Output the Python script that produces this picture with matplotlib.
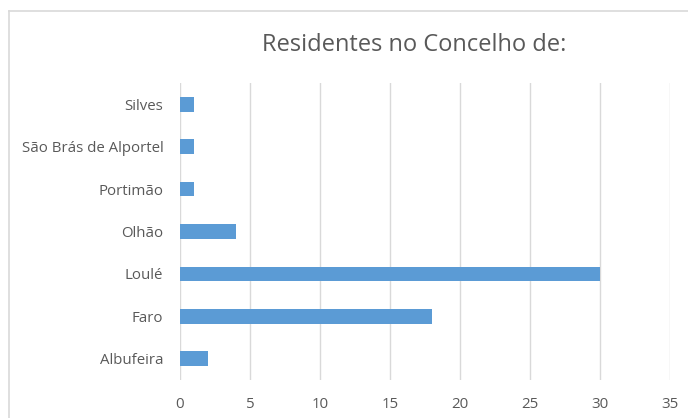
import matplotlib
matplotlib.use("Agg")
import matplotlib.pyplot as plt
from matplotlib.lines import Line2D

categories = ["Albufeira", "Faro", "Loulé", "Olhão", "Portimão", "São Brás de Alportel", "Silves"]
values = [2, 18, 30, 4, 1, 1, 1]
xticks = [0, 5, 10, 15, 20, 25, 30, 35]

W, H = 688, 418
fig = plt.figure(figsize=(W/100, H/100), dpi=100)
plt.rcParams['font.family'] = ['Open Sans', 'DejaVu Sans']

# axes in pixel coords: x 180..670, y 83..380
ax = fig.add_axes([180/W, 1-380/H, (670-180)/W, (380-83)/H])
ax.barh(range(len(categories)), values, height=0.35, color="#5B9BD5", zorder=3)
ax.set_xlim(0, 35)
ax.set_ylim(-0.5, len(categories)-0.5)
ax.set_xticks(xticks)
ax.set_xticklabels([str(t) for t in xticks], fontsize=10.8, color="#595959")
ax.set_yticks(range(len(categories)))
ax.set_yticklabels(categories, fontsize=10.8, color="#595959")
ax.tick_params(axis='both', length=0)
ax.tick_params(axis='x', pad=12)
ax.tick_params(axis='y', pad=12)
ax.grid(axis='x', color="#D9D9D9", linewidth=1, zorder=0)
for s in ax.spines.values():
    s.set_visible(False)

fig.text(414/W, 1-45/H, "Residentes no Concelho de:", ha='center', va='center',
         fontsize=17, color="#595959")

# outer chart frame (partially cropped)
fig.add_artist(Line2D([9/W, 1], [1-11/H, 1-11/H], transform=fig.transFigure, color="#D9D9D9", lw=1.2))
fig.add_artist(Line2D([9/W, 9/W], [1-11/H, 0], transform=fig.transFigure, color="#D9D9D9", lw=1.2))

fig.savefig("out.png", dpi=100)
